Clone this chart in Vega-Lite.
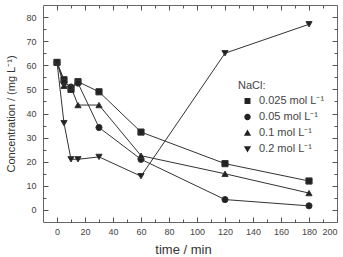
{
  "$schema": "https://vega.github.io/schema/vega-lite/v6.json",
  "width": 294,
  "height": 217,
  "autosize": {"type": "none"},
  "padding": {"left": 43, "top": 5, "right": 6, "bottom": 35},
  "background": "white",
  "config": {
    "font": "Liberation Sans",
    "view": {"stroke": "#666", "strokeWidth": 1},
    "point": {"stroke": "#333", "strokeWidth": 1},
    "axis": {
      "domain": false,
      "grid": false,
      "tickColor": "#555",
      "tickWidth": 1,
      "labelColor": "#444",
      "labelFont": "Liberation Sans",
      "labelFontSize": 9,
      "titleColor": "#333",
      "titleFont": "Liberation Sans",
      "titleFontWeight": "normal"
    },
    "legend": {
      "labelFont": "Liberation Sans",
      "titleFont": "Liberation Sans"
    }
  },
  "data": {
    "values": [
      {"t": 0, "c": 61.2, "s": "0.025 mol L⁻¹"},
      {"t": 5, "c": 54.0, "s": "0.025 mol L⁻¹"},
      {"t": 10, "c": 50.0, "s": "0.025 mol L⁻¹"},
      {"t": 15, "c": 53.2, "s": "0.025 mol L⁻¹"},
      {"t": 30, "c": 49.0, "s": "0.025 mol L⁻¹"},
      {"t": 60, "c": 32.3, "s": "0.025 mol L⁻¹"},
      {"t": 120, "c": 19.2, "s": "0.025 mol L⁻¹"},
      {"t": 180, "c": 12.0, "s": "0.025 mol L⁻¹"},
      {"t": 0, "c": 61.2, "s": "0.05 mol L⁻¹"},
      {"t": 5, "c": 53.0, "s": "0.05 mol L⁻¹"},
      {"t": 10, "c": 51.0, "s": "0.05 mol L⁻¹"},
      {"t": 15, "c": 52.6, "s": "0.05 mol L⁻¹"},
      {"t": 30, "c": 34.2, "s": "0.05 mol L⁻¹"},
      {"t": 60, "c": 21.0, "s": "0.05 mol L⁻¹"},
      {"t": 120, "c": 4.3, "s": "0.05 mol L⁻¹"},
      {"t": 180, "c": 1.7, "s": "0.05 mol L⁻¹"},
      {"t": 0, "c": 61.2, "s": "0.1 mol L⁻¹"},
      {"t": 5, "c": 51.5, "s": "0.1 mol L⁻¹"},
      {"t": 10, "c": 51.0, "s": "0.1 mol L⁻¹"},
      {"t": 15, "c": 43.5, "s": "0.1 mol L⁻¹"},
      {"t": 30, "c": 43.5, "s": "0.1 mol L⁻¹"},
      {"t": 60, "c": 22.5, "s": "0.1 mol L⁻¹"},
      {"t": 120, "c": 15.0, "s": "0.1 mol L⁻¹"},
      {"t": 180, "c": 7.0, "s": "0.1 mol L⁻¹"},
      {"t": 0, "c": 61.2, "s": "0.2 mol L⁻¹"},
      {"t": 5, "c": 36.0, "s": "0.2 mol L⁻¹"},
      {"t": 10, "c": 21.0, "s": "0.2 mol L⁻¹"},
      {"t": 15, "c": 21.0, "s": "0.2 mol L⁻¹"},
      {"t": 30, "c": 22.0, "s": "0.2 mol L⁻¹"},
      {"t": 60, "c": 14.0, "s": "0.2 mol L⁻¹"},
      {"t": 120, "c": 65.0, "s": "0.2 mol L⁻¹"},
      {"t": 180, "c": 77.0, "s": "0.2 mol L⁻¹"}
    ]
  },
  "resolve": {
    "axis": {"x": "independent", "y": "independent"},
    "scale": {"shape": "independent"}
  },
  "layer": [
    {
      "mark": {"type": "line", "color": "#333", "strokeWidth": 1},
      "encoding": {
        "x": {
          "field": "t", "type": "quantitative",
          "scale": {"domain": [-10, 200], "nice": false, "zero": false},
          "axis": {
            "orient": "bottom",
            "title": "time / min",
            "titleFontSize": 13,
            "titleX": 140,
            "values": [0, 10, 20, 30, 40, 50, 60, 70, 80, 90, 100, 110, 120, 130, 140, 150, 160, 170, 180, 190, 200],
            "labelExpr": "datum.value % 20 === 0 ? datum.label : ''",
            "tickSize": {"condition": {"test": "datum.value % 20 === 0", "value": -5}, "value": -3},
            "labelPadding": 10,
            "titlePadding": 7
          }
        },
        "y": {
          "field": "c", "type": "quantitative",
          "scale": {"domain": [-5, 85], "nice": false, "zero": false},
          "axis": {
            "orient": "left",
            "title": "Concentration / (mg L⁻¹)",
            "titleFontSize": 11,
            "values": [0, 5, 10, 15, 20, 25, 30, 35, 40, 45, 50, 55, 60, 65, 70, 75, 80],
            "labelExpr": "datum.value % 10 === 0 ? datum.label : ''",
            "tickSize": {"condition": {"test": "datum.value % 10 === 0", "value": -5}, "value": -3},
            "labelPadding": 12,
            "titlePadding": 9
          }
        },
        "detail": {"field": "s"}
      }
    },
    {
      "mark": {"type": "point", "filled": true, "color": "#222", "opacity": 1, "size": 38},
      "encoding": {
        "x": {
          "field": "t", "type": "quantitative",
          "axis": {
            "orient": "top",
            "title": null,
            "labels": false,
            "values": [0, 10, 20, 30, 40, 50, 60, 70, 80, 90, 100, 110, 120, 130, 140, 150, 160, 170, 180, 190],
            "tickSize": {"condition": {"test": "datum.value % 20 === 0", "value": -5}, "value": -3}
          }
        },
        "y": {
          "field": "c", "type": "quantitative",
          "axis": {
            "orient": "right",
            "title": null,
            "labels": false,
            "values": [0, 5, 10, 15, 20, 25, 30, 35, 40, 45, 50, 55, 60, 65, 70, 75, 80],
            "tickSize": {"condition": {"test": "datum.value % 10 === 0", "value": -5}, "value": -3}
          }
        },
        "shape": {
          "field": "s", "type": "nominal",
          "scale": {
            "domain": ["0.025 mol L⁻¹", "0.05 mol L⁻¹", "0.1 mol L⁻¹", "0.2 mol L⁻¹"],
            "range": ["square", "circle", "triangle-up", "triangle-down"]
          },
          "legend": null
        }
      }
    },
    {
      "description": "Legend key only: line segment with the series marker; no rows pass the filter.",
      "transform": [{"filter": "datum.t < 0"}],
      "mark": {"type": "point", "filled": true, "color": "#222", "opacity": 1},
      "encoding": {
        "x": {"field": "t", "type": "quantitative", "axis": null},
        "y": {"field": "c", "type": "quantitative", "axis": null},
        "shape": {
          "field": "s", "type": "nominal",
          "scale": {
            "domain": ["0.025 mol L⁻¹", "0.05 mol L⁻¹", "0.1 mol L⁻¹", "0.2 mol L⁻¹"],
            "range": [
              "M-1,0H1M-0.33,-0.33H0.33V0.33H-0.33Z",
              "M-1,0H1M0.36,0A0.36,0.36 0 1,1 -0.36,0A0.36,0.36 0 1,1 0.36,0Z",
              "M-1,0H1M-0.4,0.3H0.4L0,-0.4Z",
              "M-1,0H1M-0.4,-0.3H0.4L0,0.4Z"
            ]
          },
          "legend": {
            "title": "NaCl:",
            "orient": "none",
            "legendX": 195,
            "legendY": 75,
            "titleFontSize": 11,
            "titleFontWeight": "normal",
            "titleColor": "#444",
            "titlePadding": 4,
            "labelFontSize": 11,
            "labelColor": "#444",
            "labelOffset": 2,
            "symbolSize": 324,
            "clipHeight": 12,
            "rowPadding": 4,
            "symbolStrokeWidth": 1,
            "symbolStrokeColor": "#333",
            "symbolFillColor": "#222"
          }
        }
      }
    }
  ]
}
